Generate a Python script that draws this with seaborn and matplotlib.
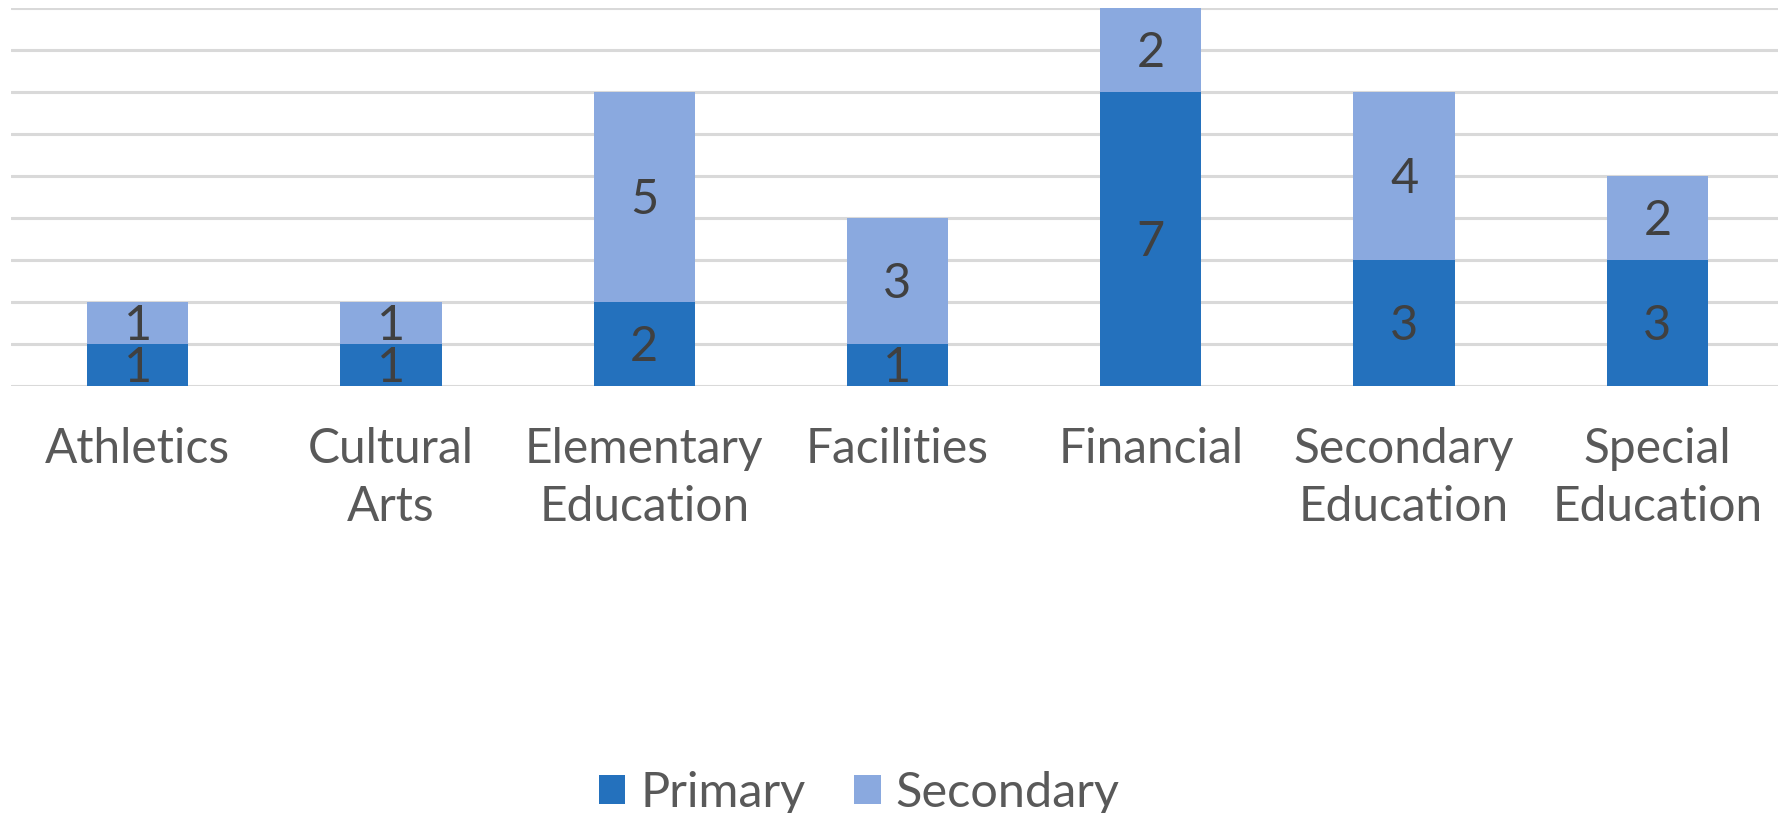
import matplotlib
matplotlib.use("Agg")
import matplotlib.pyplot as plt
import matplotlib.transforms as mtransforms
import seaborn as sns
import numpy as np
from matplotlib.patches import Patch

categories = ["Athletics", "Cultural\nArts", "Elementary\nEducation", "Facilities",
              "Financial", "Secondary\nEducation", "Special\nEducation"]
primary = [1, 1, 2, 1, 7, 3, 3]
secondary = [1, 1, 5, 3, 2, 4, 2]
series_names = ["Primary", "Secondary"]

c_primary = "#2471BD"
c_secondary = "#8AA9DF"

sns.set_theme(style="white")
plt.rcParams['font.family'] = ['Lato', 'DejaVu Sans']

W, H = 1778, 813
fig = plt.figure(figsize=(W / 100, H / 100), dpi=100)
left, right = 11, 1784
top, base = 8, 385.7
ax = fig.add_axes([left / W, 1 - base / H, (right - left) / W, (base - top) / H])

totals = [p + s for p, s in zip(primary, secondary)]
sns.barplot(x=categories, y=totals, color=c_secondary, width=0.4, ax=ax,
            saturation=1, edgecolor="none", zorder=3)
sns.barplot(x=categories, y=primary, color=c_primary, width=0.4, ax=ax,
            saturation=1, edgecolor="none", zorder=4)

ax.set_ylim(0, 9)
ax.set_xlim(-0.5, len(categories) - 0.5)
ax.set_yticks(np.arange(0, 10, 1))
ax.yaxis.grid(True, color="#D9D9D9", linewidth=2.2, zorder=0)
ax.set_axisbelow(True)
ax.tick_params(axis="y", left=False, labelleft=False)
ax.tick_params(axis="x", bottom=False, pad=24, labelsize=34.5, labelcolor="#595959")
for lbl in ax.get_xticklabels():
    lbl.set_linespacing(1.38)
for s in ["top", "right", "left", "bottom"]:
    ax.spines[s].set_visible(False)
ax.set_xlabel("")
ax.set_ylabel("")

label_tf = mtransforms.offset_copy(ax.transData, fig=fig, x=0, y=-3, units="dots")
for i, (p, s) in enumerate(zip(primary, secondary)):
    ax.text(i, p / 2, str(p), ha="center", va="center", fontsize=35,
            color="#404040", zorder=5, transform=label_tf)
    ax.text(i, p + s / 2, str(s), ha="center", va="center", fontsize=35,
            color="#404040", zorder=5, transform=label_tf)

handles = [Patch(facecolor=c_primary, edgecolor="none"),
           Patch(facecolor=c_secondary, edgecolor="none")]
fig.legend(handles, series_names, loc="center", bbox_to_anchor=(859 / W, 1 - 793 / H),
           ncol=2, frameon=False, fontsize=35, handlelength=0.55, handleheight=0.55,
           handletextpad=0.3, columnspacing=1.0, labelcolor="#595959")

fig.savefig("out.png", dpi=100)
